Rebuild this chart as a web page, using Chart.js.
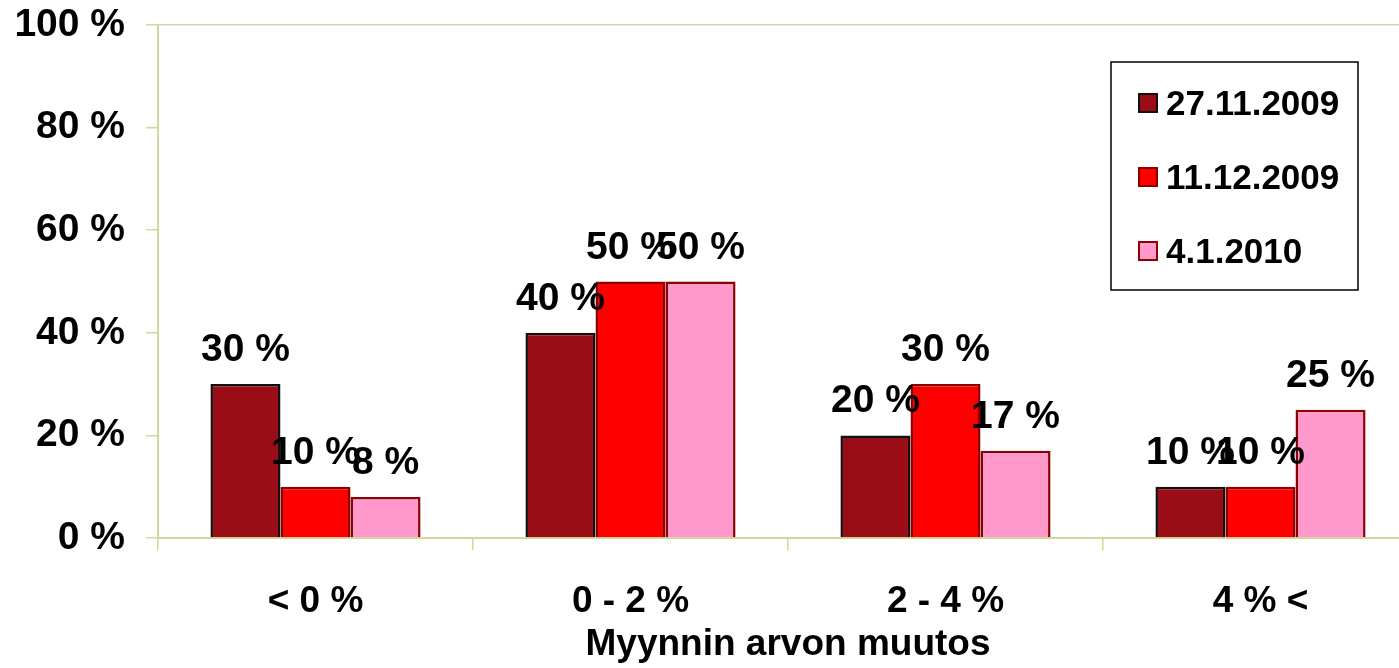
<!DOCTYPE html>
<html>
<head>
<meta charset="utf-8">
<script src="https://cdn.jsdelivr.net/npm/chart.js@4.4.1/dist/chart.umd.min.js"></script>
<style>
  html, body { margin: 0; padding: 0; background: #fff; overflow: hidden; }
  #wrap { position: relative; width: 1420px; height: 668px; }
</style>
</head>
<body>
<div id="wrap"><canvas id="grafico"></canvas></div>
<script>
// Data
const categories = ['< 0 %', '0 - 2 %', '2 - 4 %', '4 % <'];
const seriesNames = ['27.11.2009', '11.12.2009', '4.1.2010'];
const serie1 = [30, 40, 20, 10];
const serie2 = [10, 50, 30, 10];
const serie3 = [8, 50, 17, 25];
const yTicks = [0, 20, 40, 60, 80, 100];
const xTitle = 'Myynnin arvon muutos';

const fillColors = ['#9b0d16', '#ff0000', '#ff99cc'];
const edgeColors = ['#111111', '#8b0000', '#8b0000'];
const axisColor = '#d6d69c';
const font = 'Liberation Sans, Arial, sans-serif';

// Labels above bars
const labelsPlugin = {
    id: 'valueLabels',
    afterDatasetsDraw(chart) {
        const c = chart.ctx;
        c.save();
        c.font = 'bold 39px ' + font;
        c.fillStyle = '#000';
        c.textAlign = 'center';
        c.textBaseline = 'alphabetic';
        chart.data.datasets.forEach((ds, i) => {
            chart.getDatasetMeta(i).data.forEach((bar, j) => {
                c.fillText(ds.data[j] + ' %', bar.x, bar.y - 23);
            });
        });
        c.restore();
    }
};

// Legend box inside the plot
const legendPlugin = {
    id: 'legendBox',
    afterDraw(chart) {
        const c = chart.ctx;
        c.save();
        c.fillStyle = '#fff';
        c.fillRect(1111, 62, 247, 228);
        c.strokeStyle = '#000';
        c.lineWidth = 1.5;
        c.strokeRect(1111, 62, 247, 228);
        c.font = 'bold 35px ' + font;
        c.textAlign = 'left';
        c.textBaseline = 'middle';
        chart.data.datasets.forEach((ds, i) => {
            const y = 103 + i * 74;
            c.fillStyle = ds.backgroundColor;
            c.fillRect(1139, y - 9, 18, 18);
            c.strokeStyle = ds.borderColor;
            c.lineWidth = 2;
            c.strokeRect(1139, y - 9, 18, 18);
            c.fillStyle = '#000';
            c.fillText(ds.label, 1166, y + 2);
        });
        c.restore();
    }
};

const ctx = document.getElementById('grafico').getContext('2d');
const grafico = new Chart(ctx, {
    type: 'bar',
    data: {
        labels: categories,
        datasets: [serie1, serie2, serie3].map((d, i) => ({
            label: seriesNames[i],
            data: d,
            backgroundColor: fillColors[i],
            borderColor: edgeColors[i],
            borderWidth: 2.5,
            categoryPercentage: 0.667,
            barPercentage: 1.0
        }))
    },
    options: {
        responsive: true,
        maintainAspectRatio: false,
        animation: false,
        devicePixelRatio: 1,
        layout: { padding: { top: 25, right: 2, left: 0, bottom: 0 } },
        plugins: {
            legend: { display: false },
            tooltip: { enabled: false }
        },
        scales: {
            x: {
                offset: true,
                grid: {
                    offset: true,
                    drawOnChartArea: false,
                    tickLength: 12,
                    color: axisColor,
                    lineWidth: 1.5
                },
                border: { color: axisColor, width: 2 },
                ticks: {
                    color: '#000',
                    padding: 30,
                    font: { family: font, size: 37, weight: 'bold' }
                },
                title: {
                    display: true,
                    text: xTitle,
                    color: '#000',
                    padding: { top: 0, bottom: 1 },
                    font: { family: font, size: 37, weight: 'bold' }
                },
                afterFit(scale) { scale.height = 130; }
            },
            y: {
                min: 0,
                max: 100,
                afterBuildTicks(scale) {
                    scale.ticks = yTicks.map(v => ({ value: v }));
                },
                grid: {
                    tickLength: 12,
                    lineWidth: 1.5,
                    color: c => c.tick && c.tick.value === 100 ? axisColor : 'rgba(0,0,0,0)',
                    tickColor: axisColor
                },
                border: { color: axisColor, width: 2 },
                ticks: {
                    color: '#000',
                    padding: 21,
                    callback: v => v + ' %',
                    font: { family: font, size: 39, weight: 'bold' }
                },
                afterFit(scale) {
                    scale.width = 158;
                    scale.paddingTop = 0;
                    scale.paddingBottom = 0;
                }
            }
        }
    },
    plugins: [labelsPlugin, legendPlugin]
});
</script>
</body>
</html>
